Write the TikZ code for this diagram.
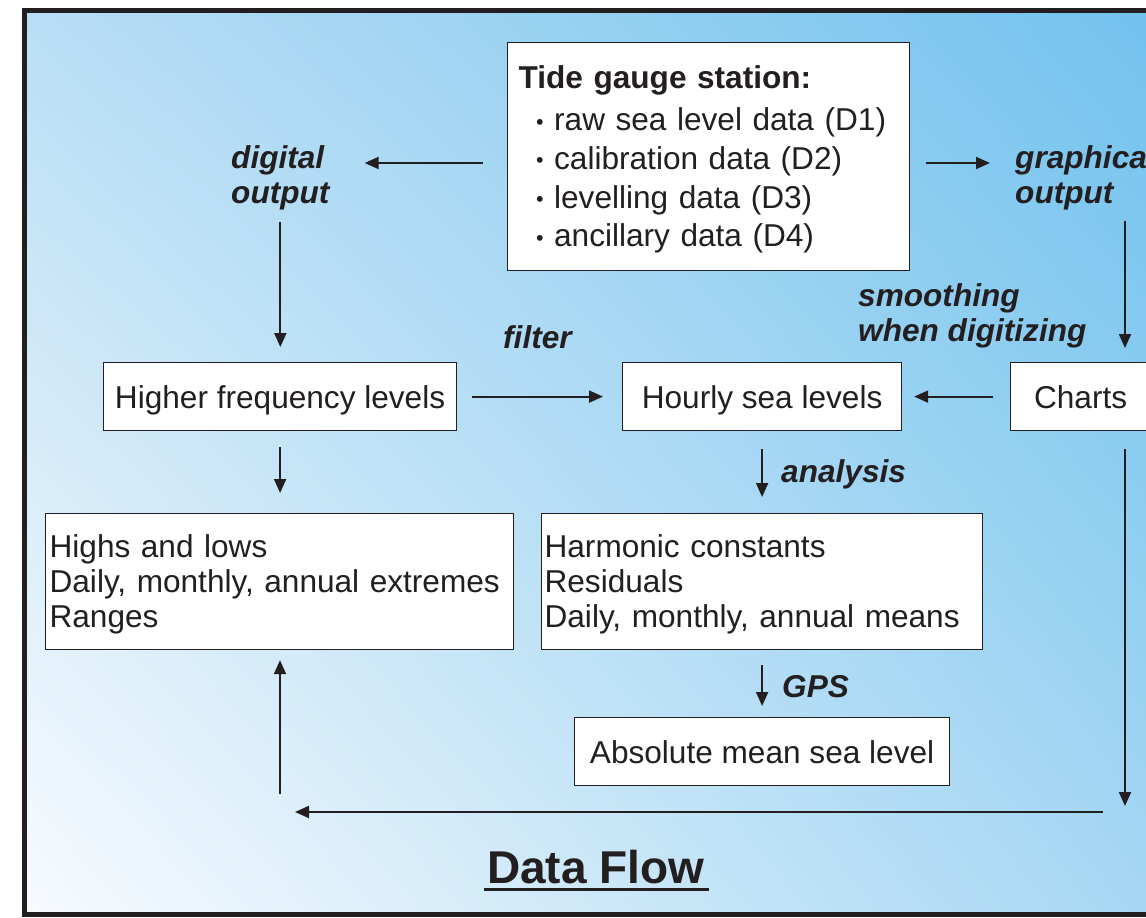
\documentclass[tikz,border=0pt]{standalone}
\usepackage{fontspec}
\setmainfont{Liberation Sans}
\usetikzlibrary{arrows.meta,calc,shadings}
\definecolor{ink}{HTML}{231F20}
\definecolor{bgul}{HTML}{B9DEF5}
\definecolor{bgur}{HTML}{72C2EE}
\definecolor{bgll}{HTML}{F8FBFE}
\definecolor{bglr}{HTML}{A6D7F3}
\newcommand\bodyfs{\fontsize{31.6pt}{35pt}\selectfont}
\newcommand\tidefs{\fontsize{31.6pt}{38.7pt}\selectfont}
\newcommand\smbul{\hspace*{17.5pt}\raisebox{1.5pt}{\scalebox{0.68}{\textbullet}}\ }
\newcommand\topstrut{\rule{0pt}{29pt}}
\begin{document}
\begin{tikzpicture}[x=1pt,y=-1pt,
  box/.style={draw=ink, line width=1.2pt, fill=white, inner sep=0pt, anchor=north west, text=ink, font=\bodyfs},
  onebox/.style={box, text depth=0pt},
  lbl/.style={inner sep=0pt, text=ink, font=\bodyfs\bfseries\itshape, align=left},
  arr/.style={draw=ink, line width=2pt, -{Triangle[length=14pt,width=12pt]}},
]
\useasboundingbox (0,0) rectangle (1146,918);
% background and frame
\shade[upper left=bgul, upper right=bgur, lower left=bgll, lower right=bglr] (24,10) rectangle (1146,915);
\draw[ink, line width=5pt] (1160,10.5) -- (24.5,10.5) -- (24.5,914.5) -- (1160,914.5);

% boxes
\node[box, minimum width=402pt, minimum height=228pt, text width=380pt, inner xsep=11pt, align=left, font=\tidefs] (tide) at (507,42)
  {\topstrut{\bfseries Tide gauge station:}\\[3.3pt]
   \smbul raw sea level data (D1)\\
   \smbul calibration data (D2)\\
   \smbul levelling data (D3)\\
   \smbul ancillary data (D4)};
\node[onebox, minimum width=353pt, minimum height=68pt] (hf) at (103,362) {Higher frequency levels};
\node[onebox, minimum width=279pt, minimum height=68pt] (hourly) at (622,362) {Hourly sea levels};
\node[onebox, minimum width=140pt, minimum height=68pt] (charts) at (1010,362) {Charts};
\node[box, minimum width=468pt, minimum height=136pt, text width=460pt, inner xsep=4pt, align=left] (highs) at (45,513)
  {\topstrut Highs and lows\\Daily, monthly, annual extremes\\Ranges};
\node[box, minimum width=441pt, minimum height=136pt, text width=435pt, inner xsep=3pt, align=left] (harm) at (541,513)
  {\topstrut Harmonic constants\\Residuals\\Daily, monthly, annual means};
\node[onebox, minimum width=375pt, minimum height=68pt] (abs) at (574,717) {Absolute mean sea level};

% labels
\node[lbl, anchor=north west] (dig) at (231,145) {digital\\output};
\node[lbl, anchor=north west] (graph) at (1015,145) {graphical\\output};
\node[lbl, anchor=north west] (smooth) at (858,283) {smoothing\\when digitizing};
\node[lbl, anchor=base west] (filt) at (503,348) {filter};
\node[lbl, anchor=base west] (anal) at (781,482) {analysis};
\node[lbl, anchor=base west] (gps) at (782,697) {GPS};

% title
\node[inner sep=0pt, anchor=base west, text=ink, font=\fontsize{46pt}{50pt}\selectfont\bfseries] (title) at (487,883) {Data Flow};
\draw[ink, line width=2.5pt] ($(title.base west)+(-3,6.5)$) -- ($(title.base east)+(4,6.5)$);

% connectors
\draw[arr, shorten <=24pt, shorten >=35pt] (tide.west |- 0,163) -- (dig.east |- 0,163);
\draw[arr, shorten <=16pt, shorten >=25pt] (tide.east |- 0,163) -- (graph.west |- 0,163);
\draw[arr, shorten <=12pt, shorten >=15pt] (dig.south) -- (dig.south |- hf.north);
\draw[arr, shorten <=11pt, shorten >=14pt] (1125,0 |- graph.south) -- (1125,0 |- charts.north);
\draw[arr, shorten <=15pt, shorten >=19pt] (hf.east) -- (hourly.west);
\draw[arr, shorten <=17pt, shorten >=12pt] (charts.west) -- (hourly.east);
\draw[arr, shorten <=16pt, shorten >=20pt] (hf.south) -- (hf.south |- highs.north);
\draw[arr, shorten <=18pt, shorten >=16pt] (hourly.south) -- (hourly.south |- harm.north);
\draw[arr, shorten <=15pt, shorten >=11pt] (harm.south -| hourly.south) -- (abs.north -| hourly.south);
\coordinate (cornerR) at (1125,812);
\coordinate (cornerL) at (280,812);
\draw[arr, shorten <=18pt, shorten >=6pt] (cornerR |- charts.south) -- (cornerR);
\draw[arr, shorten <=22pt, shorten >=15pt] (cornerR) -- (cornerL);
\draw[arr, shorten <=18pt, shorten >=10pt] (cornerL) -- (cornerL |- highs.south);
\end{tikzpicture}
\end{document}
